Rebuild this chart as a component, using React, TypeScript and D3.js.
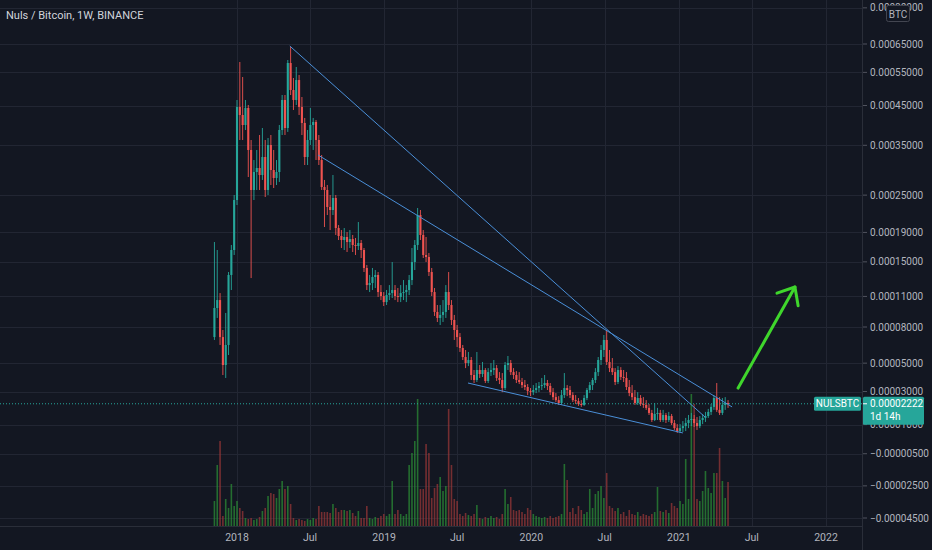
import React from 'react';
import * as d3 from 'd3';

const W = 932;
const H = 550;
const PANE_RIGHT = 862;
const PANE_BOTTOM = 526;

const title = 'Nuls / Bitcoin, 1W, BINANCE';
const symbol = 'NULSBTC';
const countdown = '1d 14h';
const currency = 'BTC';

// weekly candles, prices in satoshi (1e-8 BTC)
const firstWeek = '2017-11-06';
const firstOpenSats = 7110;
const closeSats = [
  9810, 10620, 7110, 4860, 6440, 13400, 16540, 24150, 44600, 42430,
  39850, 44310, 33950, 25920, 29330, 30130, 28740, 32420, 25920, 35070,
  29730, 28160, 29330, 38610, 46550, 39100, 58150, 49480, 46550, 52540,
  44590, 40360, 32420, 36220, 39850, 40620, 36220, 31780, 26460, 25920,
  22970, 22470, 24500, 19650, 18480, 17910, 18340, 17630, 18050, 17220,
  17080, 17490, 16540, 14240, 12240, 12470, 13160, 13400, 11470, 11040,
  10410, 11150, 11360, 11690, 11040, 10940, 11360, 11470, 11690, 12810,
  14980, 17220, 21660, 18630, 15880, 15620, 13750, 11470, 9420, 8840,
  9130, 9420, 11470, 10110, 8650, 7730, 7110, 6190, 5470, 5010,
  5240, 4130, 3780, 4490, 4200, 4490, 3710, 4340, 4490, 4630,
  3920, 3780, 3230, 4860, 5010, 4340, 4130, 3780, 3640, 3430,
  3300, 3030, 2960, 3100, 3230, 3370, 3430, 3570, 3370, 2960,
  2640, 2450, 2270, 2770, 3230, 3100, 2770, 2450, 2390, 2210,
  2150, 2580, 3100, 3430, 3780, 4340, 5240, 6030, 6860, 5090,
  4630, 4340, 3640, 4490, 3990, 3920, 3300, 2900, 2640, 2270,
  2580, 2210, 2150, 1970, 1670, 1260, 1610, 1670, 1260, 1550,
  1260, 1490, 1090, 810, 650, 810, 920, 1090, 1260, 1320,
  1090, 920, 1260, 1380, 1490, 1730, 2030, 2580, 1850, 1670,
  2150, 2270, 2222,
];
const highSats = [
  17630, 16540, 11360, 7730, 9320, 13750, 17220, 25020, 46550, 58490,
  53500, 46550, 45140, 36220, 31780, 33950, 37400, 39100, 36220, 36690,
  37400, 33950, 31780, 39850, 47990, 47990, 59190, 63880, 53180, 56790,
  54150, 47410, 41650, 38610, 44310, 41650, 41130, 37400, 32850, 27780,
  26830, 25020, 28740, 25020, 20100, 19350, 19650, 19060, 19350, 18630,
  18200, 20560, 17910, 16810, 14610, 13400, 14240, 13990, 13750, 12240,
  11470, 11690, 12240, 14980, 12240, 11910, 12240, 12810, 12240, 13400,
  16810, 17910, 22800, 22470, 19350, 18340, 16140, 14240, 11910, 10110,
  10110, 10620, 12240, 13750, 10620, 9130, 8180, 7460, 6440, 6030,
  5870, 5470, 4490, 5870, 4860, 5090, 4630, 4630, 5010, 5240,
  4860, 4340, 4270, 5090, 5550, 5240, 4630, 4410, 4340, 3920,
  3780, 3500, 3230, 3430, 3570, 3640, 3920, 4130, 3780, 3570,
  3230, 2900, 2700, 3100, 4270, 3430, 3370, 2960, 2770, 2580,
  2450, 2770, 3230, 3640, 3920, 4630, 5470, 6440, 7290, 7730,
  6030, 5390, 4630, 4780, 4700, 4490, 4340, 3780, 3430, 3100,
  2960, 2770, 2640, 2450, 2210, 1850, 2270, 1970, 1850, 1850,
  1670, 1730, 1610, 1260, 1030, 1030, 1200, 1380, 1550, 1670,
  1550, 1430, 1490, 1610, 1730, 1910, 2210, 2770, 3570, 2640,
  2580, 2640, 2450,
];
const lowSats = [
  6860, 8840, 6440, 4130, 3920, 5630, 11690, 15880, 23300, 36220,
  36220, 38610, 28350, 13040, 24150, 25920, 25920, 27780, 24670, 25020,
  26830, 26280, 26830, 27400, 37400, 37400, 38140, 47990, 43770, 45140,
  42430, 37400, 30740, 30740, 35070, 33950, 31780, 30740, 25920, 19800,
  21660, 19350, 21660, 18630, 17910, 16810, 16540, 16270, 16810, 16270,
  15880, 16540, 15490, 13750, 11690, 11470, 11690, 11910, 10940, 10620,
  10010, 10110, 10620, 10830, 10620, 10410, 10410, 10620, 10410, 11150,
  12240, 13990, 16540, 17910, 15490, 14980, 13280, 11040, 9030, 8460,
  8180, 8460, 8840, 9610, 8180, 6860, 6270, 5870, 5240, 4630,
  4780, 3780, 3570, 3640, 3920, 3990, 3570, 3570, 4060, 4130,
  3710, 3500, 2960, 3100, 4490, 4130, 3850, 3570, 3500, 3230,
  3100, 2770, 2700, 2770, 2900, 2960, 3100, 3230, 3100, 2770,
  2450, 2330, 2150, 2150, 2580, 2700, 2580, 2330, 2210, 2090,
  2030, 2090, 2450, 2900, 3100, 3570, 4060, 4860, 5470, 4860,
  4340, 4130, 3430, 3500, 3780, 3640, 3100, 2700, 2450, 2150,
  2150, 2090, 1970, 1850, 1550, 1150, 1200, 1260, 1150, 1150,
  1090, 1150, 980, 710, 550, 550, 600, 650, 810, 920,
  870, 710, 810, 1030, 1150, 1380, 1550, 1850, 1730, 1550,
  1550, 1850, 1970,
];
const volume = [
  25, 61, 85, 10, 27, 18, 42, 20, 25, 18,
  15, 8, 7, 8, 6, 7, 9, 15, 18, 30,
  33, 32, 28, 37, 45, 37, 40, 22, 8, 6,
  7, 6, 5, 7, 6, 8, 7, 20, 14, 14,
  14, 13, 22, 18, 14, 16, 16, 15, 16, 13,
  10, 15, 8, 8, 20, 8, 7, 9, 8, 10,
  12, 10, 12, 45, 12, 16, 12, 10, 12, 61,
  73, 85, 127, 37, 37, 82, 73, 28, 38, 42,
  49, 35, 40, 117, 61, 27, 25, 12, 10, 13,
  11, 10, 12, 21, 8, 7, 9, 8, 10, 8,
  9, 7, 12, 37, 22, 29, 16, 15, 16, 14,
  12, 18, 16, 12, 10, 9, 8, 9, 8, 10,
  8, 9, 10, 12, 62, 46, 14, 18, 12, 20,
  16, 12, 14, 37, 18, 32, 35, 40, 28, 53,
  20, 18, 15, 18, 12, 14, 10, 16, 12, 11,
  14, 10, 12, 11, 10, 12, 14, 39, 15, 14,
  16, 13, 23, 20, 18, 25, 22, 67, 27, 132,
  122, 27, 25, 35, 55, 38, 33, 53, 53, 78,
  45, 28, 44,
];
const lastPriceSats = 2222;

const priceTicksSats = [80000, 65000, 55000, 45000, 35000, 25000, 19000, 15000, 11000, 8000, 5000, 3000, 1000, -500, -2500, -4500];
const timeTickDates = ['2018-01-01', '2018-07-01', '2019-01-01', '2019-07-01', '2020-01-01', '2020-07-01', '2021-01-01', '2021-07-01', '2022-01-01'];
const timeTickLabels = ['2018', 'Jul', '2019', 'Jul', '2020', 'Jul', '2021', 'Jul', '2022'];

// drawings: [date, sats] pairs
const trendLines = [
  [['2018-05-12', 64250], ['2021-03-07', 1430]],
  [['2018-07-21', 32850], ['2021-05-13', 2030]],
  [['2019-07-28', 3570], ['2021-01-11', 550]],
];
const arrowPoints = [['2021-05-28', 3230], ['2021-10-16', 12020]];

const UP = '#26a69a';
const DOWN = '#ef5350';
const BG = '#131722';
const GRID = '#222633';
const TEXT = '#b2b5be';
const FONT = 'Roboto, "Noto Sans", sans-serif';

const parse = (s: string) => new Date(s + 'T00:00:00Z');

const x = d3.scaleUtc()
  .domain([parse('2018-01-01'), parse('2022-01-01')])
  .range([237, 826]);

// log scale with an offset, as the chart's price axis shows it
const PRICE_SHIFT = 10000;
const yLog = d3.scaleLog()
  .domain([65000 + PRICE_SHIFT, 8000 + PRICE_SHIFT])
  .range([44, 327]);
const yTail = d3.scaleLinear()
  .domain([-500, -4500])
  .range([yLog(-500 + PRICE_SHIFT), 518]);
const y = (s: number) => (s >= -500 ? yLog(s + PRICE_SHIFT) : yTail(s));

const fmt = (s: number) => (s < 0 ? '\u2212' : '') + (Math.abs(s) / 1e8).toFixed(8);

const candles = closeSats.map((c, i) => {
  const o = i === 0 ? firstOpenSats : closeSats[i - 1];
  return {
    date: d3.utcWeek.offset(parse(firstWeek), i),
    o,
    c,
    h: Math.max(highSats[i], o, c),
    l: Math.min(lowSats[i], o, c),
    v: volume[i],
  };
});

const volY = d3.scaleLinear()
  .domain([0, d3.max(volume) as number])
  .range([PANE_BOTTOM, PANE_BOTTOM - 132]);

const App = () => {
  const lastY = y(lastPriceSats);
  const [tail, tip] = arrowPoints.map(([d, p]) => [x(parse(d as string)), y(p as number)]);
  const ang = Math.atan2(tail[1] - tip[1], tail[0] - tip[0]);
  const head = [ang + 0.73, ang - 0.68].map((a) => [tip[0] + 19 * Math.cos(a), tip[1] + 19 * Math.sin(a)]);

  return (
    <svg width={W} height={H} style={{ position: 'absolute', left: 0, top: 0, background: BG }} fontFamily={FONT}>
      <rect width={W} height={H} fill={BG} />
      <defs>
        <clipPath id="pane">
          <rect x={0} y={0} width={PANE_RIGHT} height={PANE_BOTTOM} />
        </clipPath>
      </defs>

      {/* grid */}
      <g stroke={GRID} strokeWidth={1}>
        {priceTicksSats.map((t) => (
          <line key={t} x1={0} x2={PANE_RIGHT} y1={Math.round(y(t)) + 0.5} y2={Math.round(y(t)) + 0.5} />
        ))}
        {timeTickDates.map((d) => (
          <line key={d} x1={Math.round(x(parse(d))) + 0.5} x2={Math.round(x(parse(d))) + 0.5} y1={0} y2={PANE_BOTTOM} />
        ))}
      </g>

      <g clipPath="url(#pane)">
        {/* volume */}
        <g opacity={0.7}>
          {candles.map((d, i) => (
            <rect key={i} x={x(d.date) - 0.8} width={1.6} y={volY(d.v)} height={PANE_BOTTOM - volY(d.v)}
              fill={d.c >= d.o ? '#2c9236' : '#9e3838'} />
          ))}
        </g>

        {/* candles */}
        {candles.map((d, i) => {
          const col = d.c >= d.o ? UP : DOWN;
          const cx = x(d.date);
          const top = Math.min(y(d.o), y(d.c));
          const bh = Math.max(1, Math.abs(y(d.o) - y(d.c)));
          return (
            <g key={i}>
              <line x1={cx} x2={cx} y1={y(d.h)} y2={y(d.l)} stroke={col} strokeWidth={0.9} />
              <rect x={cx - 1.05} width={2.1} y={top} height={bh} fill={col} />
            </g>
          );
        })}

        {/* last price line */}
        <line x1={0} x2={PANE_RIGHT} y1={lastY} y2={lastY} stroke={UP} strokeWidth={1} strokeDasharray="1 2" />

        {/* drawings */}
        <g stroke="#4a8fd8" strokeWidth={1} fill="none">
          {trendLines.map((ln, i) => {
            const [a, b] = ln.map(([d, p]) => [x(parse(d as string)), y(p as number)]);
            return <line key={i} x1={a[0]} y1={a[1]} x2={b[0]} y2={b[1]} />;
          })}
        </g>
        <g stroke="#3fd62c" strokeWidth={3} strokeLinecap="round" fill="none">
          <line x1={tail[0]} y1={tail[1]} x2={tip[0]} y2={tip[1]} />
          <polyline points={`${head[0][0]},${head[0][1]} ${tip[0]},${tip[1]} ${head[1][0]},${head[1][1]}`} strokeLinejoin="round" />
        </g>
      </g>

      {/* borders */}
      <line x1={PANE_RIGHT + 0.5} x2={PANE_RIGHT + 0.5} y1={0} y2={H} stroke="#2a2e39" />
      <line x1={0} x2={PANE_RIGHT} y1={PANE_BOTTOM + 0.5} y2={PANE_BOTTOM + 0.5} stroke="#2a2e39" />

      {/* price axis */}
      <g fontSize={10} fill={TEXT}>
        {priceTicksSats.map((t) => (
          <g key={t}>
            <line x1={PANE_RIGHT + 1} x2={PANE_RIGHT + 5} y1={y(t)} y2={y(t)} stroke="#50535e" />
            <text x={870} y={y(t)} dy="0.35em">{fmt(t)}</text>
          </g>
        ))}
      </g>

      {/* currency badge */}
      <rect x={886.5} y={5.5} width={23} height={16} rx={2} fill={BG} stroke="#434651" />
      <text x={898} y={14} dy="0.35em" textAnchor="middle" fontSize={10} fill={TEXT}>{currency}</text>

      {/* time axis */}
      <g fontSize={10.5} fill={TEXT} textAnchor="middle">
        {timeTickDates.map((d, i) => (
          <text key={d} x={x(parse(d))} y={541}>{timeTickLabels[i]}</text>
        ))}
      </g>

      {/* last price labels */}
      <rect x={814} y={lastY - 7} width={47} height={14} rx={1.5} fill={UP} />
      <text x={837.5} y={lastY} dy="0.35em" textAnchor="middle" fontSize={10} fill="#ffffff">{symbol}</text>
      <rect x={863} y={lastY - 7} width={61} height={28} rx={1.5} fill={UP} />
      <line x1={863} x2={867} y1={lastY} y2={lastY} stroke="#ffffff" />
      <text x={870} y={lastY} dy="0.35em" fontSize={10} fill="#ffffff">{fmt(lastPriceSats)}</text>
      <text x={870} y={lastY + 13} dy="0.35em" fontSize={10} fill="#ffffff">{countdown}</text>

      {/* title */}
      <text x={6} y={19} fontSize={11} fill="#d1d4dc">{title}</text>
    </svg>
  );
};

export default App;
